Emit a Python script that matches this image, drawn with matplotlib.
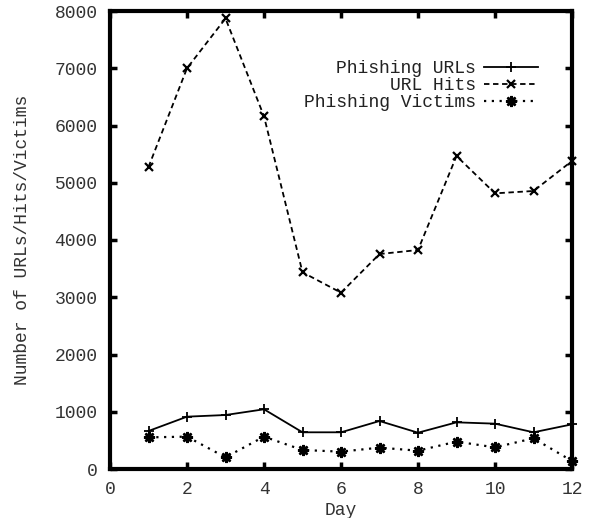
import matplotlib
matplotlib.use("Agg")
from matplotlib import pyplot as plt
import numpy as np

# data
days = [1, 2, 3, 4, 5, 6, 7, 8, 9, 10, 11, 12]
phishing_urls = [664, 914, 943, 1043, 641, 641, 838, 634, 815, 792, 641, 780]
url_hits = [5275, 7000, 7870, 6160, 3436, 3080, 3755, 3825, 5467, 4815, 4856, 5380]
phishing_victims = [553, 565, 204, 565, 332, 303, 373, 320, 478, 378, 536, 140]

xticks = [0, 2, 4, 6, 8, 10, 12]
yticks = [0, 1000, 2000, 3000, 4000, 5000, 6000, 7000, 8000]

plt.rcParams['font.family'] = ['Liberation Mono', 'DejaVu Sans Mono']
plt.rcParams['font.size'] = 13

fig = plt.figure(figsize=(5.95, 5.18), dpi=100)
ax = fig.add_axes([110/595, 1 - 469/518, (572 - 110)/595, (469 - 11)/518])

ax.plot(days, phishing_urls, color='black', linestyle='-', linewidth=1.3,
        marker='+', markersize=7, markeredgewidth=1.3, clip_on=False, label='Phishing URLs')
ax.plot(days, url_hits, color='black', linestyle=(0, (3, 2)), linewidth=1.3,
        marker='x', markersize=6, markeredgewidth=1.6, clip_on=False, label='URL Hits')
ax.plot(days, phishing_victims, color='black', linestyle=(0, (1, 2.5)), linewidth=1.6,
        marker=(8, 2, 0), markersize=8, markeredgewidth=1.8, clip_on=False, label='Phishing Victims')

ax.set_xlim(0, 12)
ax.set_ylim(0, 8000)
ax.set_xticks(xticks)
ax.set_yticks(yticks)

for side in ['left', 'right', 'top', 'bottom']:
    ax.spines[side].set_linewidth(3)

ax.tick_params(direction='in', length=5, width=2.5, top=True, right=True,
               labelcolor='#333333')
ax.tick_params(axis='x', pad=8.5)
ax.tick_params(axis='y', pad=9)

ax.set_xlabel('Day', color='#333333', labelpad=3)
ax.set_ylabel('Number of URLs/Hits/Victims', color='#333333', labelpad=17)

leg = ax.legend(loc='upper right', bbox_to_anchor=(0.946, 0.912), frameon=False,
                markerfirst=False, handlelength=3.0, handletextpad=0.45,
                labelspacing=0.0, borderpad=0)
for t in leg.get_texts():
    t.set_color('#222222')

fig.savefig('out.png', dpi=100)
